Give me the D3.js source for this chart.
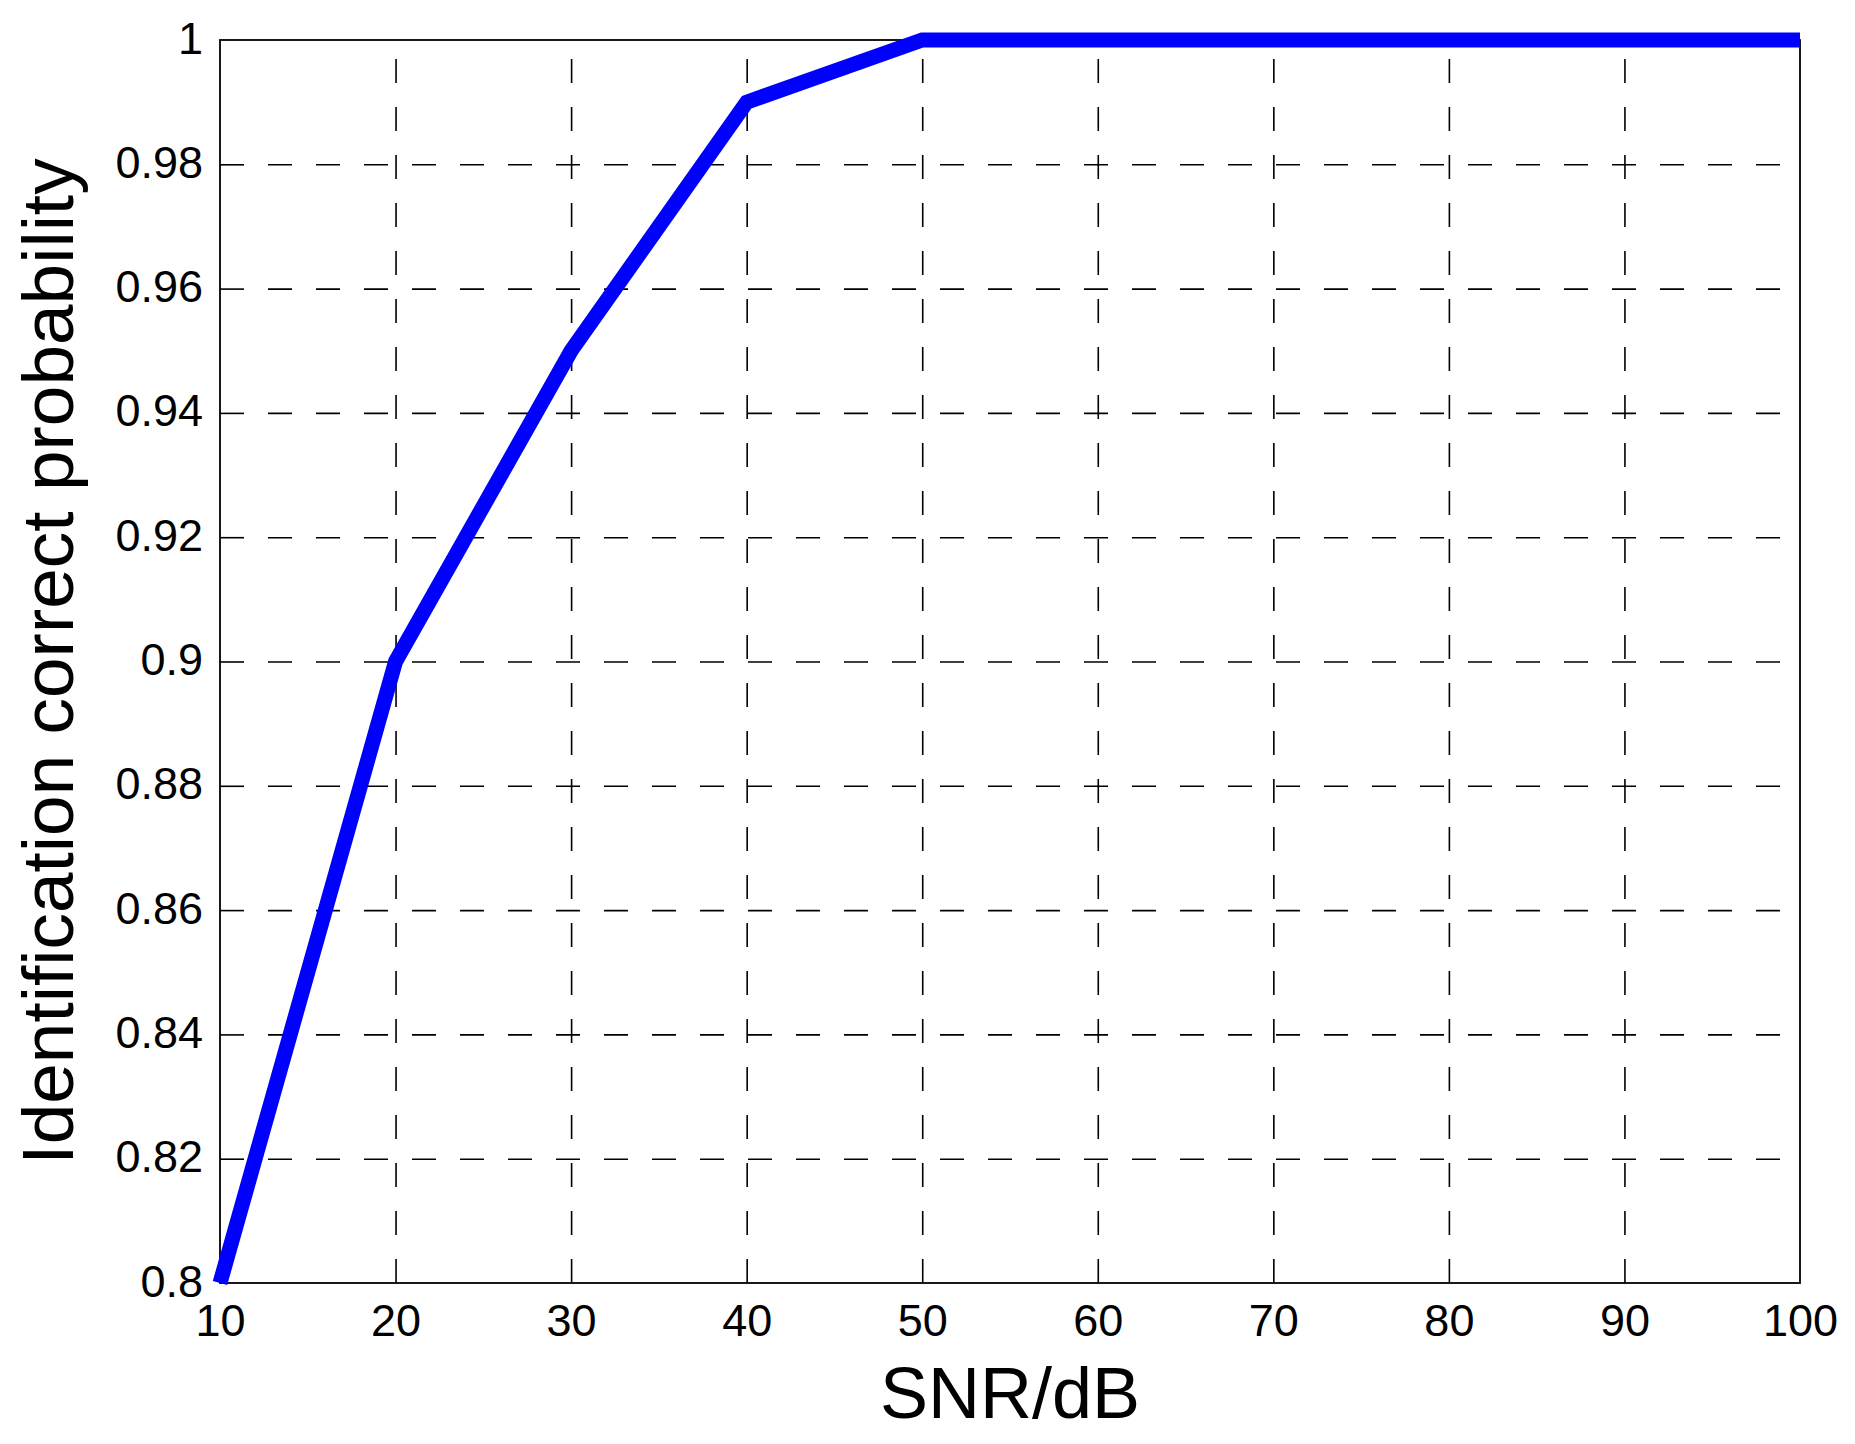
<!DOCTYPE html>
<html>
<head>
<meta charset="utf-8">
<script src="https://cdn.jsdelivr.net/npm/d3@7"></script>
<style>
  html, body { margin: 0; padding: 0; background: #fff; }
  svg { display: block; }
  text { font-family: "Liberation Sans", Arial, sans-serif; fill: #000; }
</style>
</head>
<body>
<div id="chart"></div>
<script>
// values
const snrDb = [10, 20, 30, 40, 50, 60, 70, 80, 90, 100]
const correctProb = [0.8, 0.9, 0.95, 0.99, 1, 1, 1, 1, 1, 1]

const xTicks = [10, 20, 30, 40, 50, 60, 70, 80, 90, 100]
const yTicks = [0.8, 0.82, 0.84, 0.86, 0.88, 0.9, 0.92, 0.94, 0.96, 0.98, 1]
const yTickLabels = ["0.8", "0.82", "0.84", "0.86", "0.88", "0.9", "0.92", "0.94", "0.96", "0.98", "1"]

const xLabel = "SNR/dB"
const yLabel = "Identification correct probability"

const width = 1855
const height = 1444
const margin = {top: 40, right: 55, bottom: 161, left: 220}
const innerW = width - margin.left - margin.right
const innerH = height - margin.top - margin.bottom

const svg = d3.select("#chart").append("svg")
  .attr("width", width)
  .attr("height", height)
  .attr("viewBox", [0, 0, width, height])

const g = svg.append("g").attr("transform", `translate(${margin.left},${margin.top})`)

const x = d3.scaleLinear().domain([10, 100]).range([0, innerW])
const y = d3.scaleLinear().domain([0.8, 1]).range([innerH, 0])

// dashed grid, drawn from the bottom / left edge like matlab does
const gridX = g.append("g")
  .attr("transform", `translate(0,${innerH})`)
  .call(d3.axisBottom(x).tickValues(xTicks.slice(1, -1)).tickSize(-innerH).tickFormat(""))
gridX.select(".domain").remove()
gridX.selectAll("line")
  .attr("stroke", "#000")
  .attr("stroke-width", 1.6)
  .attr("stroke-dasharray", "24,24")

const gridY = g.append("g")
  .call(d3.axisLeft(y).tickValues(yTicks.slice(1, -1)).tickSize(-innerW).tickFormat(""))
gridY.select(".domain").remove()
gridY.selectAll("line")
  .attr("stroke", "#000")
  .attr("stroke-width", 1.6)
  .attr("stroke-dasharray", "24,24")

// axis box
g.append("rect")
  .attr("x", 0).attr("y", 0)
  .attr("width", innerW).attr("height", innerH)
  .attr("fill", "none")
  .attr("stroke", "#000")
  .attr("stroke-width", 1.8)

// tick labels
const xAxis = g.append("g")
  .attr("transform", `translate(0,${innerH})`)
  .call(d3.axisBottom(x).tickValues(xTicks).tickSize(0).tickPadding(21).tickFormat(d3.format("d")))
xAxis.select(".domain").remove()
xAxis.selectAll("text")
  .style("font-size", "45px")
  .attr("fill", "#000")

const yAxis = g.append("g")
  .call(d3.axisLeft(y).tickValues(yTicks).tickSize(0).tickPadding(17)
    .tickFormat((d, i) => yTickLabels[i]))
yAxis.select(".domain").remove()
yAxis.selectAll("text")
  .style("font-size", "45px")
  .attr("dy", "0.29em")
  .attr("fill", "#000")

// the curve
const line = d3.line()
  .x(d => x(d[0]))
  .y(d => y(d[1]))

g.append("path")
  .datum(d3.zip(snrDb, correctProb))
  .attr("d", line)
  .attr("fill", "none")
  .attr("stroke", "#0000ff")
  .attr("stroke-width", 15)
  .attr("stroke-linejoin", "miter")
  .attr("stroke-linecap", "butt")

// axis titles
svg.append("text")
  .attr("x", margin.left + innerW / 2)
  .attr("y", 1418)
  .attr("text-anchor", "middle")
  .style("font-size", "72px")
  .text(xLabel)

svg.append("text")
  .attr("transform", `translate(73,${margin.top + innerH / 2}) rotate(-90)`)
  .attr("text-anchor", "middle")
  .style("font-size", "73px")
  .text(yLabel)
</script>
</body>
</html>
